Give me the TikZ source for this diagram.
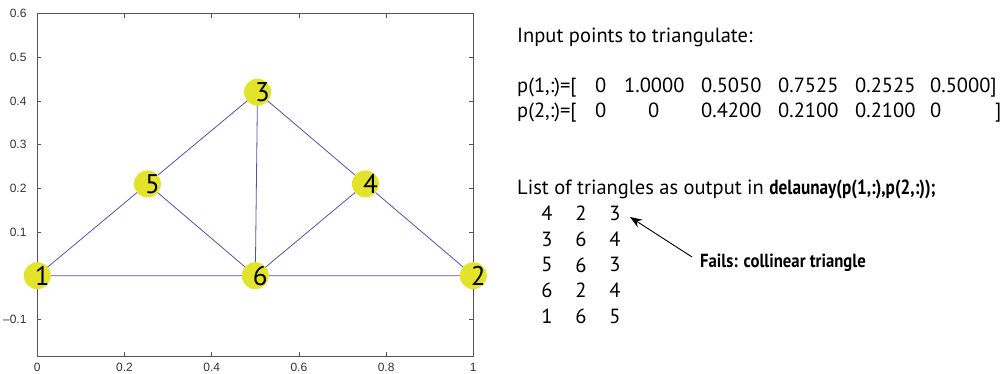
\documentclass[tikz,border=0pt]{standalone}
\usepackage{fontspec}
\setmainfont{PT Sans}
\newfontfamily\tickfont{Liberation Sans}
\usetikzlibrary{arrows.meta}
\definecolor{pty}{HTML}{E3E32C}
\definecolor{edgec}{HTML}{5555A5}
\definecolor{framec}{HTML}{555555}
\begin{document}
\begin{tikzpicture}[x=1pt,y=-1pt,
  ptnode/.style={circle,fill=pty,minimum size=27pt,inner sep=0pt},
  ptlabel/.style={font=\fontsize{27}{27}\selectfont,xshift=5pt,yshift=0pt},
  edge/.style={draw=edgec,line width=0.8pt},
  tick/.style={draw=framec,line width=0.7pt},
  ticklab/.style={font=\tickfont\fontsize{12}{12}\selectfont,text=black!80},
  body/.style={font=\fontsize{20.5}{20.5}\selectfont,anchor=base west,inner sep=0pt},
  num/.style={font=\fontsize{20.5}{20.5}\selectfont,inner sep=0pt}]
\useasboundingbox (0,0) rectangle (1003,373);
% axes frame
\draw[framec,line width=0.9pt] (37.3,13.5) rectangle (473.3,356);
% x ticks
\foreach \v/\l in {0/0,0.2/0.2,0.4/0.4,0.6/0.6,0.8/0.8,1/1}{
  \pgfmathsetmacro{\px}{37.3+436*\v}
  \draw[tick] (\px,356) -- (\px,352);
  \draw[tick] (\px,13.5) -- (\px,17.5);
  \node[ticklab,anchor=north] at (\px,360) {\l};
}
% y ticks
\foreach \v/\l in {-0.1/{\textendash0.1},0/{},0.1/0.1,0.2/0.2,0.3/0.3,0.4/0.4,0.5/0.5,0.6/0.6}{
  \pgfmathsetmacro{\py}{275.7-437*\v}
  \draw[tick] (37.3,\py) -- (41.3,\py);
  \draw[tick] (473.3,\py) -- (469.3,\py);
  \node[ticklab,anchor=east] at (30,\py) {\l};
}
% points
\coordinate (c1) at (37.3,275.7);
\coordinate (c2) at (473.3,275.7);
\coordinate (c3) at (257.5,92.2);
\coordinate (c4) at (365.4,183.9);
\coordinate (c5) at (147.4,183.9);
\coordinate (c6) at (255.3,275.7);
\draw[edge] (c1) -- (c5) -- (c3) -- (c4) -- (c2) -- (c6) -- (c1);
\draw[edge] (c5) -- (c6) -- (c4);
\draw[edge] (c3) -- (c6);
\foreach \i in {1,...,6}{
  \node[ptnode] (p\i) at (c\i) {};
  \node[ptlabel] (l\i) at (c\i) {\i};
}
% right text
\node[body] (t1) at (517,42) {Input points to triangulate:};
\node[body] (r1) at (517,92) {p(1,:)=[};
\node[body] (r2) at (517,117) {p(2,:)=[};
\node[body] (a1) at (595,92) {0};
\node[body] (a2) at (624,92) {1.0000};
\node[body] (a3) at (701,92) {0.5050};
\node[body] (a4) at (778,92) {0.7525};
\node[body] (a5) at (855,92) {0.2525};
\node[body] (a6) at (930,92) {0.5000]};
\node[body] (b1) at (595,117) {0};
\node[body] (b2) at (648,117) {0};
\node[body] (b3) at (701,117) {0.4200};
\node[body] (b4) at (778,117) {0.2100};
\node[body] (b5) at (855,117) {0.2100};
\node[body] (b6) at (930,117) {0};
\node[body] (b7) at (995,117) {]};
\node[body] (t2) at (517,194) {List of triangles as output in \scalebox{0.84}[1]{\bfseries delaunay(p(1,:),p(2,:));}};
\foreach \r/\a/\b/\c [count=\k] in {0/4/2/3,1/3/6/4,2/5/6/3,3/6/2/4,4/1/6/5}{
  \pgfmathsetmacro{\yy}{213.5+25.7*\r}
  \node[num] (m\k a) at (547,\yy) {\a};
  \node[num] (m\k b) at (581,\yy) {\b};
  \node[num] (m\k c) at (615,\yy) {\c};
}
\node[font=\fontsize{19}{19}\selectfont\bfseries,anchor=west,inner sep=0pt] (fail) at (700,263) {\scalebox{0.88}[1]{Fails: collinear triangle}};
\coordinate (ft) at (692,257);
\draw[line width=0.9pt,-{Stealth[length=12pt,width=9pt]}] (ft) -- (630,217);
\end{tikzpicture}
\end{document}
